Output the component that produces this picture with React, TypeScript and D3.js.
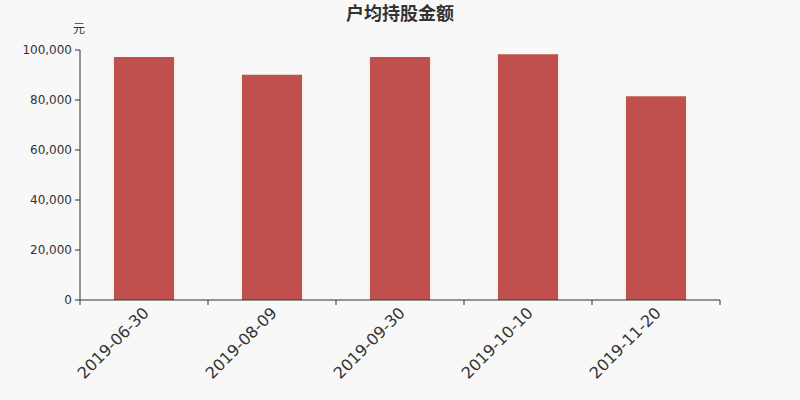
import { scaleBand, scaleLinear } from "d3";

const WIDTH = 800;
const HEIGHT = 400;
const MARGIN = { top: 50, right: 80, bottom: 100, left: 80 };

const dates = ["2019-06-30", "2019-08-09", "2019-09-30", "2019-10-10", "2019-11-20"];
const amounts = [97200, 90100, 97200, 98300, 81500];
const yTicks = [0, 20000, 40000, 60000, 80000, 100000];

const FONT = "'DejaVu Sans', sans-serif";

export default function App() {
  const xScale = scaleBand<string>()
    .domain(dates)
    .range([MARGIN.left, WIDTH - MARGIN.right]);

  const yScale = scaleLinear()
    .domain([0, 100000])
    .range([HEIGHT - MARGIN.bottom, MARGIN.top]);

  const barWidth = xScale.bandwidth() * 0.47;
  const baseY = HEIGHT - MARGIN.bottom;
  const fmt = (v: number) => v.toLocaleString("en-US");

  return (
    <svg
      width={WIDTH}
      height={HEIGHT}
      viewBox={`0 0 ${WIDTH} ${HEIGHT}`}
      style={{ position: "absolute", left: 0, top: 0, fontFamily: FONT }}
    >
      <rect x="0" y="0" width={WIDTH} height={HEIGHT} fill="#f8f8f8" />
      <text
        x={WIDTH / 2}
        y={20}
        textAnchor="middle"
        fontSize="18"
        fontWeight="bold"
        fill="#333"
        fontFamily="'Noto Sans CJK SC', sans-serif"
      >
        户均持股金额
      </text>
      <text
        x={79}
        y={33}
        textAnchor="middle"
        fontSize="12"
        fill="#333"
        fontFamily="'Noto Sans CJK SC', sans-serif"
      >
        元
      </text>

      {dates.map((d, i) => (
        <rect
          key={d}
          x={(xScale(d) ?? 0) + (xScale.bandwidth() - barWidth) / 2}
          y={yScale(amounts[i])}
          width={barWidth}
          height={baseY - yScale(amounts[i])}
          fill="#c0504d"
        />
      ))}

      <line x1={MARGIN.left} x2={MARGIN.left} y1={MARGIN.top} y2={baseY} stroke="#333" />
      {yTicks.map((t) => (
        <g key={t}>
          <line x1={MARGIN.left - 5} x2={MARGIN.left} y1={yScale(t)} y2={yScale(t)} stroke="#333" />
          <text
            x={MARGIN.left - 8}
            y={yScale(t)}
            dy="0.35em"
            textAnchor="end"
            fontSize="12"
            fill="#333"
          >
            {fmt(t)}
          </text>
        </g>
      ))}

      <line x1={MARGIN.left} x2={WIDTH - MARGIN.right} y1={baseY} y2={baseY} stroke="#333" />
      {[...dates.map((d) => xScale(d) ?? 0), WIDTH - MARGIN.right].map((x, i) => (
        <line key={i} x1={x} x2={x} y1={baseY} y2={baseY + 5} stroke="#333" />
      ))}
      {dates.map((d) => {
        const cx = (xScale(d) ?? 0) + xScale.bandwidth() / 2;
        return (
          <text
            key={d}
            transform={`translate(${cx + 2},${baseY + 10}) rotate(-45)`}
            textAnchor="end"
            dy="0.35em"
            fontSize="16"
            fill="#333"
          >
            {d}
          </text>
        );
      })}
    </svg>
  );
}
